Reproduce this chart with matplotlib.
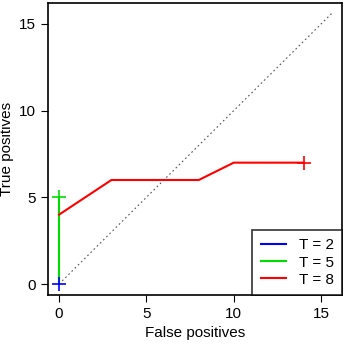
import matplotlib
matplotlib.use("Agg")
import matplotlib.pyplot as plt

plt.rcParams['font.family'] = ['Liberation Sans', 'DejaVu Sans']

# ROC-like curves (false positives, true positives)
fp_t2 = [0]
tp_t2 = [0]
fp_t5 = [0, 0]
tp_t5 = [0, 5]
fp_t8 = [0, 3, 8, 10, 14]
tp_t8 = [4, 6, 6, 7, 7]
diag = [0, 15.6]

fig = plt.figure(figsize=(3.44, 3.45), dpi=100)
ax = fig.add_axes([0.1395, 0.145, 0.855, 0.846])

ax.plot(diag, diag, color='#555555', ls=(0, (1.5, 2.5)), lw=0.8)
ax.plot(fp_t5, tp_t5, color='#00dd00', lw=1.5)
ax.plot(fp_t5[-1:], tp_t5[-1:], '+', color='#00dd00', ms=10, mew=1.2)
ax.plot(fp_t8, tp_t8, color='#ff0000', lw=1.5)
ax.plot(fp_t8[-1:], tp_t8[-1:], '+', color='#ff0000', ms=10, mew=1.2)
ax.plot(fp_t2, tp_t2, color='#0000ff', lw=1.5)
ax.plot(fp_t2[-1:], tp_t2[-1:], '+', color='#0000ff', ms=10, mew=1.2)

# legend handles in T order
h2, = ax.plot([], [], color='#0000ff', lw=1.5)
h5, = ax.plot([], [], color='#00dd00', lw=1.5)
h8, = ax.plot([], [], color='#ff0000', lw=1.5)

ax.set_xlim(-0.63, 16.2)
ax.set_ylim(-0.63, 16.2)
ax.set_xticks([0, 5, 10, 15])
ax.set_yticks([0, 5, 10, 15])
ax.tick_params(direction='out', length=5, labelsize=11, width=0.8)
for s in ax.spines.values():
    s.set_linewidth(1.2)
ax.set_xlabel('False positives', fontsize=11)
ax.set_ylabel('True positives', fontsize=11)

leg = ax.legend([h2, h5, h8], ['T = 2', 'T = 5', 'T = 8'], loc='lower right',
                fontsize=11, frameon=True, fancybox=False,
                edgecolor='black', borderaxespad=0, handlelength=1.7,
                labelspacing=0.2, borderpad=0.55, handletextpad=0.8)
leg.get_frame().set_linewidth(1.2)

fig.savefig('out.png', dpi=100)
